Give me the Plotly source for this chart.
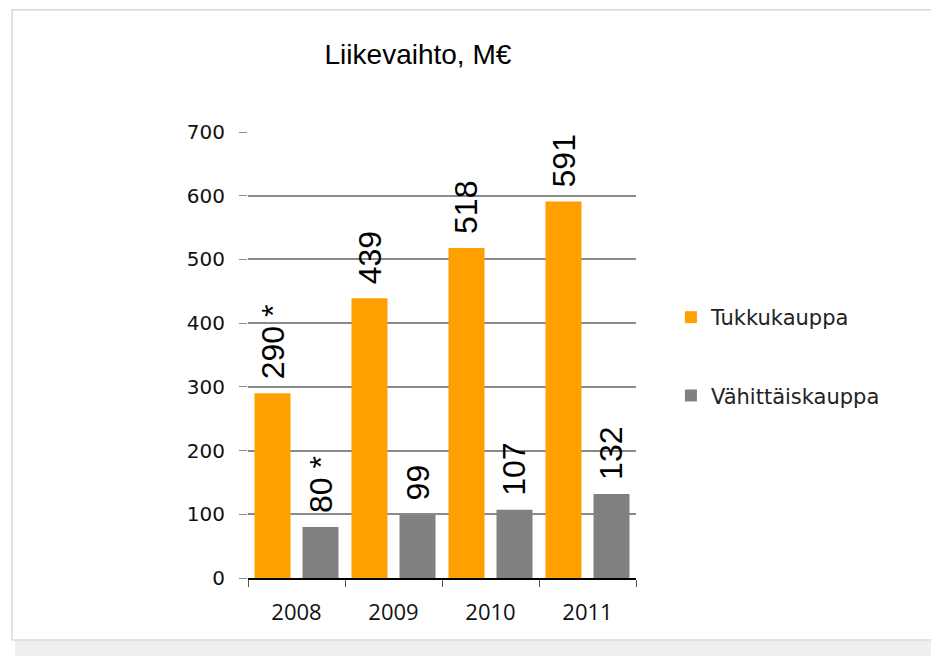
import plotly.graph_objects as go

years = ["2008", "2009", "2010", "2011"]
tukku = [290, 439, 518, 591]
vahittais = [80, 99, 107, 132]
tukku_labels = ["290 *", "439", "518", "591"]
vahittais_labels = ["80 *", "99", "107", "132"]
y_ticks = [0, 100, 200, 300, 400, 500, 600, 700]

ORANGE = "#FFA000"
GRAY = "#808080"

fig = go.Figure()
fig.add_trace(go.Bar(x=years, y=tukku, name="Tukkukauppa", marker_color=ORANGE,
                     marker_line_width=0, legendgroup="a"))
fig.add_trace(go.Bar(x=years, y=vahittais, name="Vähittäiskauppa", marker_color=GRAY,
                     marker_line_width=0, legendgroup="b"))

label_font = dict(family="Liberation Sans, Arial", size=32, color="#000")
for i, yr in enumerate(years):
    fig.add_annotation(x=i, y=tukku[i], text=tukku_labels[i], textangle=-90,
                       xshift=-24, yshift=12, yanchor="bottom", showarrow=False,
                       font=label_font)
    fig.add_annotation(x=i, y=vahittais[i], text=vahittais_labels[i], textangle=-90,
                       xshift=24, yshift=12, yanchor="bottom", showarrow=False,
                       font=label_font)

# frame (paper coords relative to the plot area)
fig.add_shape(type="rect", xref="paper", yref="paper", x0=-0.608, x1=1.85, y0=-0.139, y1=1.274,
              line=dict(color="#d8d8d8", width=1.5), fillcolor="rgba(0,0,0,0)", layer="below")
fig.add_shape(type="rect", xref="paper", yref="paper", x0=-0.6, x1=1.85, y0=-0.18, y1=-0.141,
              line=dict(width=0), fillcolor="#efefef", layer="below")

fig.update_layout(
    width=939, height=656,
    margin=dict(l=240, r=311, t=124, b=86, autoexpand=False),
    paper_bgcolor="white", plot_bgcolor="white",
    barmode="group", bargap=0.01, bargroupgap=0.25,
    title=dict(text="Liikevaihto, M€", x=0.438, xref="paper", xanchor="center",
               y=0.929, yanchor="middle",
               font=dict(family="Liberation Sans, Arial", size=28, color="#000")),
    showlegend=True,
    legend=dict(x=1.09, y=0.63, xanchor="left", yanchor="top",
                font=dict(family="DejaVu Sans, Verdana", size=21, color="#222"),
                tracegroupgap=48, itemwidth=30, bgcolor="rgba(0,0,0,0)"),
    xaxis=dict(type="category", range=[-0.5, 3.5], showline=True, linecolor="#000",
               linewidth=1.5, ticks="outside", automargin=False,
               tickson="boundaries", ticklen=7, tickcolor="#555",
               tickfont=dict(family="Open Sans, DejaVu Sans", size=22, color="#111"),
               ticklabelstandoff=14, showgrid=False),
    yaxis=dict(range=[0, 700], tickvals=y_ticks, showline=False, showgrid=True,
               gridcolor="#8a8a8a", gridwidth=1.5, zeroline=False, ticks="outside",
               ticklen=8, tickcolor="#8a8a8a", automargin=False,
               tickfont=dict(family="DejaVu Sans, Verdana", size=20, color="#111"),
               ticklabelstandoff=10),
)

fig.write_html("out.html")
